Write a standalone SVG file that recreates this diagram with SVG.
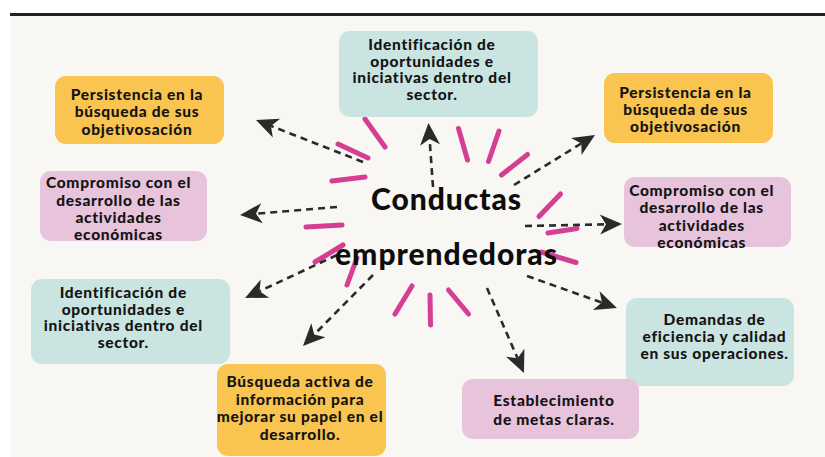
<svg xmlns="http://www.w3.org/2000/svg" width="825" height="457" viewBox="0 0 825 457">
  <style>
    .box-o { fill: #f9c44f; }
    .box-t { fill: #cae5e1; }
    .box-p { fill: #e7c3dc; }
    .lbl { font-family: Lato, "Open Sans", "DejaVu Sans", sans-serif; font-weight: 900; font-size: 15.5px; fill: #141414; text-anchor: middle; letter-spacing: 0.7px; }
    .title { font-family: Lato, "Open Sans", "DejaVu Sans", sans-serif; font-weight: 900; font-size: 30px; fill: #0d0d0d; text-anchor: middle; }
    .conn { fill: none; stroke: #2a2a2a; stroke-width: 2.6; stroke-dasharray: 7 5; }
    .ray { stroke: #d43f93; stroke-width: 5; stroke-linecap: round; }
  </style>
  <defs>
    <marker id="ah" markerUnits="userSpaceOnUse" orient="auto" refX="0" refY="0" markerWidth="30" markerHeight="30" overflow="visible">
      <path d="M16,0 L-6,-10 L0,0 L-6,10 Z" fill="#2a2a2a"/>
    </marker>
  </defs>

  <rect x="0" y="0" width="825" height="457" fill="#ffffff"/>
  <rect x="10" y="15" width="815" height="442" fill="#f8f7f3"/>
  <rect x="10" y="13" width="815" height="3" fill="#222222"/>

  <g id="rays">
    <line class="ray" x1="365" y1="119" x2="385" y2="147"/>
    <line class="ray" x1="338" y1="144" x2="368" y2="158"/>
    <line class="ray" x1="332" y1="181" x2="365" y2="177"/>
    <line class="ray" x1="306" y1="227" x2="342" y2="225"/>
    <line class="ray" x1="315" y1="262" x2="343" y2="245"/>
    <line class="ray" x1="347" y1="285" x2="357" y2="258"/>
    <line class="ray" x1="395" y1="314" x2="412" y2="286"/>
    <line class="ray" x1="430" y1="295" x2="430.5" y2="325"/>
    <line class="ray" x1="448.5" y1="290" x2="468.5" y2="314"/>
    <line class="ray" x1="458.5" y1="128.5" x2="467.5" y2="160"/>
    <line class="ray" x1="499" y1="131" x2="488.5" y2="161.5"/>
    <line class="ray" x1="501.5" y1="175" x2="527.5" y2="154.5"/>
    <line class="ray" x1="539" y1="216.5" x2="560.5" y2="194"/>
    <line class="ray" x1="548" y1="233" x2="577" y2="228.5"/>
    <line class="ray" x1="541" y1="252" x2="576" y2="262.5"/>
  </g>

  <g id="connectors">
    <path class="conn" d="M363,162 L270.9,125.9" marker-end="url(#ah)"/>
    <path class="conn" d="M337,207 L256,213.7" marker-end="url(#ah)"/>
    <path class="conn" d="M433,187 L429.6,139" marker-end="url(#ah)"/>
    <path class="conn" d="M514,185 L581.4,143.4" marker-end="url(#ah)"/>
    <path class="conn" d="M525,226 L606,224.3" marker-end="url(#ah)"/>
    <path class="conn" d="M527,276 L601.9,302.6" marker-end="url(#ah)"/>
    <path class="conn" d="M487,288 L517.6,358.3" marker-end="url(#ah)"/>
    <path class="conn" d="M373,275 L314.2,334.6" marker-end="url(#ah)"/>
    <path class="conn" d="M337,255 L259.5,291.2" marker-end="url(#ah)"/>
  </g>

  <g id="center">
    <text class="title" x="446" y="210" textLength="150" lengthAdjust="spacing">Conductas</text>
    <text class="title" x="446" y="265" textLength="222" lengthAdjust="spacing">emprendedoras</text>
  </g>

  <g id="n-top">
    <rect class="box-t" x="339" y="31" width="199" height="86" rx="11"/>
    <text class="lbl" x="432" y="50">Identificación de</text>
    <text class="lbl" x="432" y="66.7">oportunidades e</text>
    <text class="lbl" x="432" y="83.4">iniciativas dentro del</text>
    <text class="lbl" x="432" y="100">sector.</text>
  </g>

  <g id="n-top-left">
    <rect class="box-o" x="55" y="76" width="169" height="68" rx="11"/>
    <text class="lbl" x="137" y="100">Persistencia en la</text>
    <text class="lbl" x="137" y="117.3">búsqueda de sus</text>
    <text class="lbl" x="137" y="134.6">objetivosación</text>
  </g>

  <g id="n-top-right">
    <rect class="box-o" x="604" y="73" width="169" height="70" rx="11"/>
    <text class="lbl" x="685.5" y="97.7">Persistencia en la</text>
    <text class="lbl" x="685.5" y="115">búsqueda de sus</text>
    <text class="lbl" x="685.5" y="132.3">objetivosación</text>
  </g>

  <g id="n-left">
    <rect class="box-p" x="40" y="171" width="167" height="70" rx="11"/>
    <text class="lbl" x="118.5" y="188.3">Compromiso con el</text>
    <text class="lbl" x="118.5" y="205.6">desarrollo de las</text>
    <text class="lbl" x="118.5" y="222.9">actividades</text>
    <text class="lbl" x="118.5" y="240.2">económicas</text>
  </g>

  <g id="n-right">
    <rect class="box-p" x="624" y="177" width="167" height="70" rx="11"/>
    <text class="lbl" x="701.7" y="196">Compromiso con el</text>
    <text class="lbl" x="701.7" y="213.3">desarrollo de las</text>
    <text class="lbl" x="701.7" y="230.6">actividades</text>
    <text class="lbl" x="701.7" y="247.9">económicas</text>
  </g>

  <g id="n-left-bottom">
    <rect class="box-t" x="31" y="279" width="199" height="85" rx="11"/>
    <text class="lbl" x="123.3" y="298">Identificación de</text>
    <text class="lbl" x="123.3" y="314.7">oportunidades e</text>
    <text class="lbl" x="123.3" y="331.3">iniciativas dentro del</text>
    <text class="lbl" x="123.3" y="348">sector.</text>
  </g>

  <g id="n-bottom">
    <rect class="box-o" x="217" y="364" width="169" height="92" rx="11"/>
    <text class="lbl" x="300" y="387.3">Búsqueda activa de</text>
    <text class="lbl" x="300" y="404.7">información para</text>
    <text class="lbl" x="300" y="422">mejorar su papel en el</text>
    <text class="lbl" x="300" y="439.8">desarrollo.</text>
  </g>

  <g id="n-right-bottom">
    <rect class="box-t" x="626" y="298" width="168" height="88" rx="11"/>
    <text class="lbl" x="714.5" y="324.7">Demandas de</text>
    <text class="lbl" x="714.5" y="342">eficiencia y calidad</text>
    <text class="lbl" x="714.5" y="359.3">en sus operaciones.</text>
  </g>

  <g id="n-bottom-right">
    <rect class="box-p" x="462" y="379" width="177" height="60" rx="11"/>
    <text class="lbl" x="554" y="406">Establecimiento</text>
    <text class="lbl" x="554" y="424.5">de metas claras.</text>
  </g>
</svg>
